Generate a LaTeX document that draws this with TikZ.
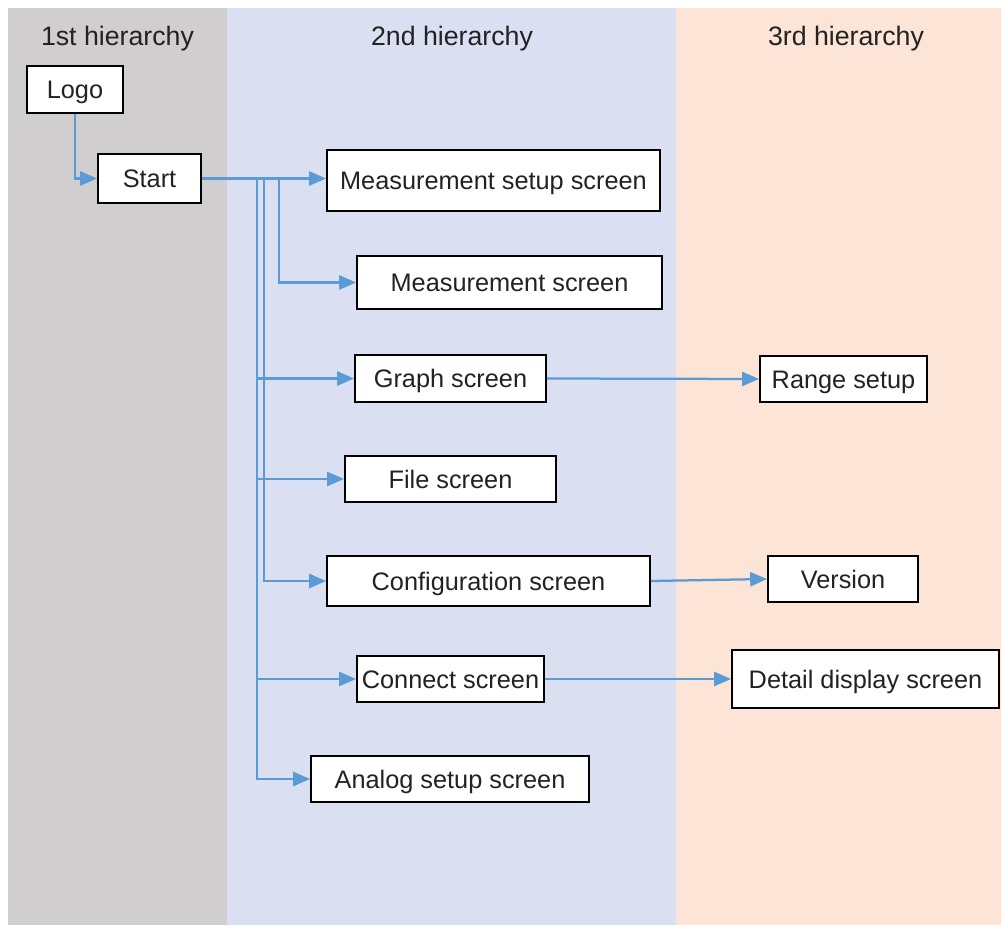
\documentclass[tikz,border=0pt]{standalone}
\usepackage{fontspec}
\setmainfont{Liberation Sans}
\usetikzlibrary{arrows.meta,positioning}

\definecolor{firstbg}{RGB}{208,206,206}
\definecolor{secondbg}{RGB}{218,224,242}
\definecolor{thirdbg}{RGB}{252,228,214}
\definecolor{linkblue}{RGB}{91,155,213}
\definecolor{inkgray}{RGB}{34,34,34}

\begin{document}
\begin{tikzpicture}[x=0.025cm, y=-0.025cm, font=\fontsize{18}{21}\selectfont, text=inkgray,
    screen/.style={rectangle, draw=black, fill=white, line width=1.3pt, inner sep=0pt, align=center,
        text height=12.9pt, text depth=0pt},
    header/.style={font=\fontsize{19}{22}\selectfont, text height=13.6pt, text depth=0pt},
    link/.style={draw=linkblue, line width=1.6pt, -{Triangle[length=12pt,width=10pt]}}]
    \useasboundingbox (0,0) rectangle (1001,925);

    % hierarchy columns
    \fill[firstbg] (8,8) rectangle (227,925);
    \fill[secondbg] (227,8) rectangle (676,925);
    \fill[thirdbg] (676,8) rectangle (1001,925);

    \node (head1) [header] at (117.5,36) {1st hierarchy};
    \node (head2) [header] at (452,36) {2nd hierarchy};
    \node (head3) [header] at (846,36) {3rd hierarchy};

    % screens
    \node (logo) [screen, minimum width=2.4cm, minimum height=1.175cm] at (75,89.5) {Logo};
    \node (start) [screen, minimum width=2.575cm, minimum height=1.225cm] at (149.5,178.5) {Start};

    \node (msetup) [screen, minimum width=8.325cm, minimum height=1.525cm] at (493.5,180.5) {Measurement setup screen};
    \node (meas) [screen, minimum width=7.625cm, minimum height=1.325cm] at (509.5,282.5) {Measurement screen};
    \node (graph) [screen, minimum width=4.775cm, minimum height=1.175cm] at (450.5,378.5) {Graph screen};
    \node (file) [screen, minimum width=5.275cm, minimum height=1.15cm] at (450.5,479) {File screen};
    \node (config) [screen, minimum width=8.075cm, minimum height=1.25cm] at (488.5,581) {Configuration screen};
    \node (connect) [screen, minimum width=4.675cm, minimum height=1.15cm] at (450.5,679) {Connect screen};
    \node (analog) [screen, minimum width=6.95cm, minimum height=1.15cm] at (450,779) {Analog setup screen};

    \node (range) [screen, minimum width=4.175cm, minimum height=1.15cm] at (843.5,379) {Range setup};
    \node (version) [screen, minimum width=3.75cm, minimum height=1.15cm] at (843,579) {Version};
    \node (detail) [screen, minimum width=6.675cm, minimum height=1.45cm] at (865.5,679) {Detail display screen};

    % branch points on the line out of Start
    \coordinate (trunkA) at (257,178.5);
    \coordinate (trunkB) at (264,178.5);
    \coordinate (trunkC) at (279,178.5);

    \draw[link] (logo.south) |- (start.west);
    \draw[link] (start.east) -- (start.east -| msetup.west);
    \draw[link] (start.east) -- (trunkC) |- (meas.west);
    \draw[link] (start.east) -- (trunkB) |- (config.west);
    \foreach \target in {graph,file,connect,analog}
        \draw[link] (start.east) -- (trunkA) |- (\target.west);

    \draw[link] (graph.east) -- (range.west);
    \draw[link] (config.east) -- (version.west);
    \draw[link] (connect.east) -- (detail.west);
\end{tikzpicture}
\end{document}
